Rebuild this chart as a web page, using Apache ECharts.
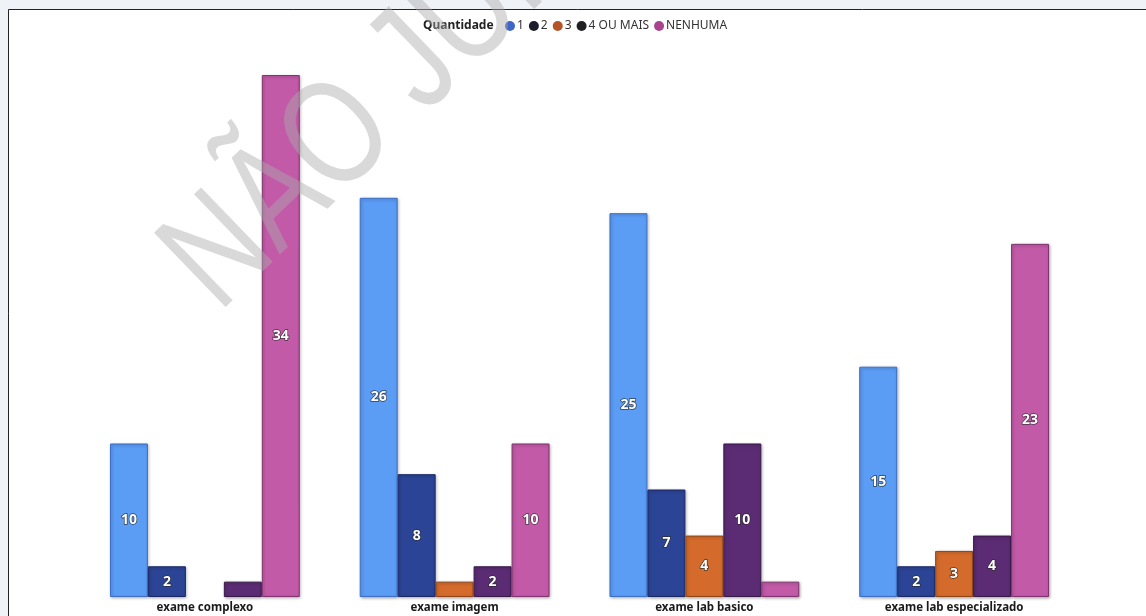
<!DOCTYPE html>
<html>
<head>
<meta charset="utf-8">
<script src="https://cdn.jsdelivr.net/npm/echarts@6/dist/echarts.min.js"></script>
<style>
  html, body { margin: 0; padding: 0; background: #eff2f7; }
  #main { width: 1146px; height: 616px; }
</style>
</head>
<body>
<div id="main"></div>
<script>
// categorias e valores
var categorias = ["exame complexo", "exame imagem", "exame lab basico", "exame lab especializado"];
var nomesSeries = ["1", "2", "3", "4 OU MAIS", "NENHUMA"];
var qtd1 = [10, 26, 25, 15];
var qtd2 = [2, 8, 7, 2];
var qtd3 = [null, 1, 4, 3];
var qtd4 = [1, 2, 10, 4];
var nenhuma = [34, 10, 1, 23];

var cores = ["#5b9cf5", "#2c4496", "#d46b2c", "#5b2c74", "#c25aa8"];
var bordas = ["#3d6fc4", "#1a2865", "#8f4517", "#381848", "#80336f"];
var coresLegenda = ["#3f66c4", "#1c1c2a", "#b35526", "#1f1f24", "#a8438f"];

var myChart = echarts.init(document.getElementById("main"));

function serie(i, dados) {
  return {
    name: nomesSeries[i],
    type: "bar",
    data: dados,
    barGap: "0%",
    barCategoryGap: "24%",
    itemStyle: {
      color: cores[i],
      borderColor: bordas[i],
      borderWidth: 1,
      shadowBlur: 3,
      shadowColor: "rgba(0,0,0,0.3)",
      shadowOffsetX: 1,
      shadowOffsetY: 1
    },
    label: {
      show: true,
      position: "inside",
      color: "#fff",
      fontWeight: "bold",
      fontSize: 14,
      fontFamily: "Noto Sans",
      textBorderColor: "rgba(40,40,40,0.8)",
      textBorderWidth: 1.5,
      formatter: function (p) { return p.value >= 2 ? p.value : ""; }
    }
  };
}

myChart.setOption({
  animation: false,
  backgroundColor: "#eff2f7",
  graphic: [
    {
      type: "rect",
      z: -10,
      shape: { x: 8.5, y: 9.5, width: 1146, height: 616 },
      style: { fill: "#fff", stroke: "#222", lineWidth: 1 }
    },
    {
      type: "text",
      left: 423,
      top: 20,
      style: { text: "Quantidade", font: "bold 12px Noto Sans", fill: "#222" }
    },
    {
      // marca d'água
      type: "text",
      z: 100,
      x: 190,
      y: 284,
      rotation: 44 * Math.PI / 180,
      scaleX: 0.78,
      style: {
        text: "NÃO JURAMENTADO",
        font: "150px Liberation Sans",
        fill: "rgba(170,170,170,0.45)",
        verticalAlign: "middle",
        align: "left"
      }
    }
  ],
  legend: {
    left: 505,
    top: 20,
    padding: 0,
    icon: "circle",
    itemWidth: 10,
    itemHeight: 10,
    itemGap: 5,
    textStyle: { fontSize: 12, color: "#333", fontFamily: "Noto Sans", padding: [0, 0, 0, -3] },
    data: nomesSeries.map(function (n, i) {
      return { name: n, itemStyle: { color: coresLegenda[i], borderWidth: 0 } };
    })
  },
  grid: { left: 80, right: 67, top: 75, bottom: 19 },
  xAxis: {
    type: "category",
    data: categorias,
    axisLine: { show: false },
    axisTick: { show: false },
    axisLabel: {
      fontWeight: "bold",
      fontSize: 11.5,
      color: "#1a1a1a",
      fontFamily: "Noto Sans",
      margin: 5
    }
  },
  yAxis: {
    type: "value",
    min: 0,
    max: 34,
    show: false,
    splitLine: { show: false }
  },
  series: [
    serie(0, qtd1),
    serie(1, qtd2),
    serie(2, qtd3),
    serie(3, qtd4),
    serie(4, nenhuma)
  ]
});
</script>
</body>
</html>
